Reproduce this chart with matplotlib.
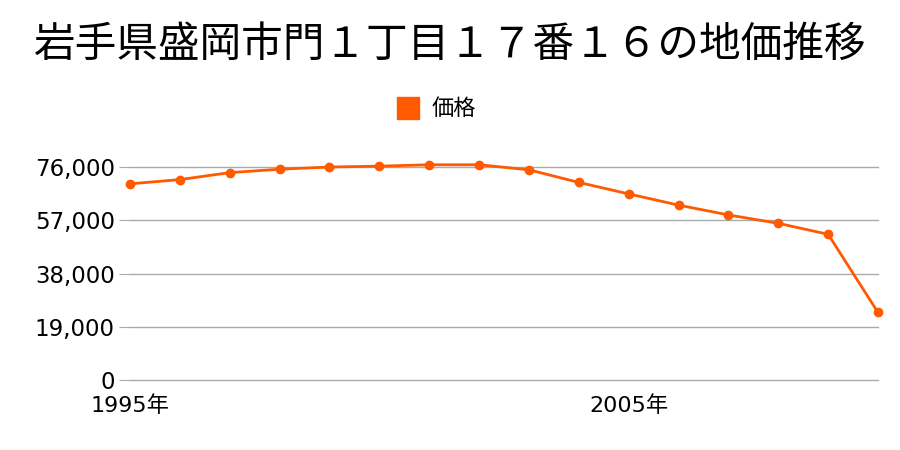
import matplotlib
matplotlib.use('Agg')
import matplotlib.pyplot as plt
from matplotlib.ticker import FuncFormatter
from matplotlib.patches import Rectangle

plt.rcParams['font.family'] = ['DejaVu Sans', 'Noto Sans CJK JP']

# data
years = list(range(1995, 2011))
prices = [70000, 71500, 74000, 75200, 76000, 76300, 76800, 76800,
          75000, 70500, 66400, 62400, 58900, 55900, 52000, 24100]
yticks = [0, 19000, 38000, 57000, 76000]
xticks = [1995, 2005]
title = '岩手県盛岡市門１丁目１７番１６の地価推移'
series_name = '価格'
color = '#ff5a00'
cjk = ['Noto Sans CJK JP', 'DejaVu Sans']

fig = plt.figure(figsize=(9, 4.5), dpi=100)
ax = fig.add_axes([130 / 900, 1 - 380 / 450, 748 / 900, 213 / 450])

ax.plot(years, prices, color=color, lw=2, marker='o', ms=6, clip_on=False,
        label=series_name)

ax.set_xlim(1995, 2010)
ax.set_ylim(0, 76000)
ax.set_yticks(yticks)
ax.yaxis.set_major_formatter(FuncFormatter(lambda v, p: f'{int(v):,}'))
ax.set_xticks(xticks)
ax.set_xticklabels([f'{y}年' for y in xticks])
ax.grid(axis='y', color='#aaaaaa', lw=1)
for g in ax.get_ygridlines():
    g.set_clip_on(False)
ax.set_axisbelow(True)
for s in ax.spines.values():
    s.set_visible(False)
ax.tick_params(axis='y', length=8, color='#aaaaaa', labelsize=16.5, pad=3)
ax.tick_params(axis='x', length=0, labelsize=16, pad=11)

fig.text(0.5, 1 - 45 / 450, title, ha='center', va='center', fontsize=30,
         family=cjk)
fig.patches.append(Rectangle((397 / 900, 1 - 119 / 450), 22 / 900, 22 / 450,
                             transform=fig.transFigure, color=color))
fig.text(432 / 900, 1 - 108 / 450, series_name, ha='left', va='center',
         fontsize=16, family=cjk)

fig.savefig('out.png')
